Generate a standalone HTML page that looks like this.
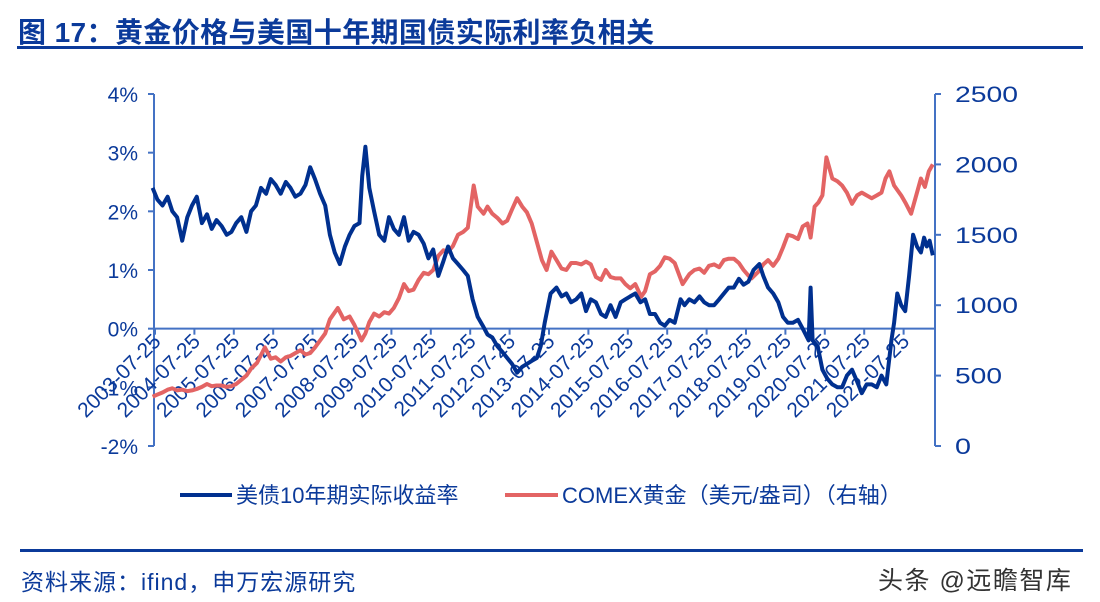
<!DOCTYPE html>
<html><head><meta charset="utf-8">
<style>
html,body{margin:0;padding:0;background:#fff;}
body{width:1100px;height:602px;overflow:hidden;position:relative;font-family:"Liberation Sans","Noto Sans CJK SC",sans-serif;}
.t{position:absolute;white-space:nowrap;}
</style></head><body>
<div class="t" style="left:18px;top:11px;font-size:28px;font-weight:bold;color:#0b3a9a;letter-spacing:0.4px;">图 17：黄金价格与美国十年期国债实际利率负相关</div>
<div style="position:absolute;left:17px;top:46px;width:1066px;height:3px;background:#0b3a9a;"></div>
<div style="position:absolute;left:20px;top:549px;width:1063px;height:3px;background:#0b3a9a;"></div>
<div class="t" style="left:21px;top:563px;font-size:23px;color:#0b3a9a;letter-spacing:1px;">资料来源：ifind，申万宏源研究</div>
<div class="t" style="left:878px;top:561px;font-size:25px;color:#333;letter-spacing:1.5px;">头条 @远瞻智库</div>
<svg id="chart" width="1100" height="602" style="position:absolute;left:0;top:0;" xmlns="http://www.w3.org/2000/svg"></svg>
<script>
const yearTicks=["2003-07-25","2004-07-25","2005-07-25","2006-07-25","2007-07-25","2008-07-25","2009-07-25","2010-07-25","2011-07-25","2012-07-25","2013-07-25","2014-07-25","2015-07-25","2016-07-25","2017-07-25","2018-07-25","2019-07-25","2020-07-25","2021-07-25","2022-07-25"];
const leftTicks=[-2,-1,0,1,2,3,4];
const rightTicks=[0,500,1000,1500,2000,2500];
const yieldDates=[2003.5,2003.62,2003.75,2003.88,2004.0,2004.12,2004.25,2004.38,2004.5,2004.62,2004.75,2004.88,2005.0,2005.12,2005.25,2005.38,2005.5,2005.62,2005.75,2005.88,2006.0,2006.12,2006.25,2006.38,2006.5,2006.62,2006.75,2006.88,2007.0,2007.12,2007.25,2007.38,2007.5,2007.62,2007.75,2007.88,2008.0,2008.12,2008.25,2008.38,2008.5,2008.62,2008.75,2008.82,2008.9,2009.0,2009.12,2009.25,2009.38,2009.5,2009.62,2009.75,2009.88,2010.0,2010.12,2010.25,2010.38,2010.5,2010.62,2010.75,2010.88,2011.0,2011.12,2011.25,2011.38,2011.5,2011.62,2011.75,2011.88,2012.0,2012.12,2012.25,2012.38,2012.5,2012.62,2012.75,2012.88,2013.0,2013.12,2013.25,2013.35,2013.45,2013.6,2013.75,2013.88,2014.0,2014.12,2014.25,2014.38,2014.5,2014.62,2014.75,2014.88,2015.0,2015.12,2015.25,2015.38,2015.5,2015.62,2015.75,2015.88,2016.0,2016.12,2016.25,2016.38,2016.5,2016.62,2016.75,2016.9,2017.0,2017.12,2017.25,2017.38,2017.5,2017.62,2017.75,2017.88,2018.0,2018.12,2018.25,2018.38,2018.5,2018.62,2018.75,2018.9,2019.0,2019.12,2019.25,2019.38,2019.5,2019.62,2019.75,2019.88,2020.0,2020.15,2020.2,2020.25,2020.38,2020.5,2020.62,2020.75,2020.88,2021.0,2021.12,2021.25,2021.38,2021.5,2021.62,2021.75,2021.88,2022.0,2022.12,2022.25,2022.32,2022.4,2022.5,2022.6,2022.7,2022.8,2022.9,2023.0,2023.08,2023.15,2023.22,2023.3];
const yieldValues=[2.4,2.2,2.1,2.25,2.0,1.9,1.5,1.9,2.1,2.25,1.8,1.95,1.7,1.85,1.75,1.6,1.65,1.8,1.9,1.65,2.0,2.1,2.4,2.3,2.55,2.45,2.3,2.5,2.4,2.25,2.3,2.45,2.75,2.55,2.3,2.1,1.6,1.3,1.1,1.4,1.6,1.75,1.8,2.6,3.1,2.4,2.0,1.6,1.5,1.9,1.7,1.6,1.9,1.5,1.65,1.6,1.45,1.2,1.35,0.9,1.15,1.4,1.2,1.1,1.0,0.9,0.5,0.2,0.05,-0.1,-0.15,-0.3,-0.4,-0.5,-0.6,-0.75,-0.65,-0.6,-0.55,-0.5,-0.3,0.1,0.6,0.7,0.55,0.6,0.45,0.5,0.6,0.3,0.5,0.45,0.25,0.2,0.4,0.2,0.45,0.5,0.55,0.6,0.45,0.5,0.25,0.25,0.1,0.05,0.15,0.1,0.5,0.4,0.5,0.45,0.55,0.45,0.4,0.4,0.5,0.6,0.7,0.7,0.85,0.75,0.8,1.0,1.1,0.9,0.7,0.6,0.45,0.2,0.1,0.1,0.15,0.0,-0.2,0.7,-0.2,-0.3,-0.7,-0.85,-0.95,-1.0,-1.0,-0.8,-0.7,-0.9,-1.1,-0.95,-0.95,-1.0,-0.8,-0.95,-0.2,0.1,0.6,0.4,0.3,0.9,1.6,1.4,1.3,1.55,1.4,1.5,1.25];
const goldDates=[2003.5,2003.62,2003.75,2003.88,2004.0,2004.12,2004.25,2004.38,2004.5,2004.62,2004.75,2004.88,2005.0,2005.12,2005.25,2005.38,2005.5,2005.62,2005.75,2005.88,2006.0,2006.15,2006.35,2006.5,2006.62,2006.75,2006.88,2007.0,2007.12,2007.25,2007.38,2007.5,2007.62,2007.75,2007.88,2008.0,2008.2,2008.35,2008.5,2008.62,2008.8,2008.9,2009.0,2009.12,2009.25,2009.38,2009.5,2009.62,2009.75,2009.88,2010.0,2010.12,2010.25,2010.38,2010.5,2010.62,2010.75,2010.88,2011.0,2011.12,2011.25,2011.38,2011.5,2011.65,2011.75,2011.9,2012.0,2012.12,2012.25,2012.38,2012.5,2012.62,2012.75,2012.88,2013.0,2013.12,2013.25,2013.38,2013.5,2013.62,2013.75,2013.88,2014.0,2014.12,2014.25,2014.38,2014.5,2014.62,2014.75,2014.88,2015.0,2015.12,2015.25,2015.38,2015.5,2015.62,2015.75,2015.9,2016.0,2016.12,2016.25,2016.38,2016.5,2016.62,2016.75,2016.95,2017.12,2017.25,2017.38,2017.5,2017.62,2017.75,2017.88,2018.0,2018.12,2018.25,2018.38,2018.5,2018.62,2018.7,2018.88,2019.0,2019.12,2019.25,2019.38,2019.5,2019.62,2019.75,2019.88,2020.0,2020.12,2020.2,2020.3,2020.4,2020.5,2020.6,2020.75,2020.88,2021.0,2021.12,2021.25,2021.38,2021.5,2021.62,2021.75,2021.88,2022.0,2022.1,2022.2,2022.32,2022.5,2022.62,2022.75,2022.9,2023.0,2023.1,2023.2,2023.3];
const goldValues=[350,365,380,400,410,395,400,390,395,405,420,440,425,430,430,420,425,440,470,500,550,590,700,620,630,600,630,640,660,680,650,660,700,750,800,900,980,900,920,860,750,800,880,940,920,950,940,980,1050,1150,1100,1110,1180,1230,1220,1250,1350,1390,1380,1420,1500,1520,1550,1850,1700,1650,1700,1650,1620,1580,1600,1680,1760,1700,1660,1580,1450,1320,1250,1380,1320,1260,1250,1300,1300,1290,1310,1290,1200,1180,1250,1200,1190,1190,1150,1120,1150,1060,1100,1220,1240,1280,1340,1330,1300,1150,1220,1250,1260,1230,1280,1290,1270,1320,1330,1330,1300,1250,1210,1190,1240,1290,1320,1280,1330,1410,1500,1490,1470,1560,1580,1480,1700,1730,1780,2050,1900,1880,1850,1800,1720,1780,1800,1780,1760,1780,1800,1900,1950,1850,1780,1720,1650,1800,1900,1840,1950,2000];

const NS="http://www.w3.org/2000/svg";
const svg=document.getElementById('chart');
const X0=155,PX_YEAR=39.4,YT=94,YB=446;
const xs=d=>X0+(d-2003.56)*PX_YEAR;
const yl=v=>YB-(v+2)/6*(YB-YT);
const yr=v=>YB-v/2500*(YB-YT);
function mk(tag,attrs){const e=document.createElementNS(NS,tag);for(const k in attrs)e.setAttribute(k,attrs[k]);svg.appendChild(e);return e;}
const AX="#4472c4",TX="#0b3a9a";
let e=mk('line',{x1:154,y1:YT,x2:154,y2:YB,stroke:AX,'stroke-width':2});

leftTicks.forEach(v=>{
  let t=mk('line',{x1:148,x2:154,y1:yl(v),y2:yl(v),stroke:AX,'stroke-width':2});
  
  let l=mk('text',{x:138,y:yl(v)+8,'text-anchor':'end','font-size':21,fill:TX});
  l.textContent=v+'%';
  
});
e=mk('line',{x1:935,y1:YT,x2:935,y2:YB,stroke:AX,'stroke-width':2});

rightTicks.forEach(v=>{
  let t=mk('line',{x1:935,x2:941,y1:yr(v),y2:yr(v),stroke:AX,'stroke-width':2});
  
  const s=String(v);
  let l=mk('text',{x:955,y:yr(v)+8,'font-size':22,fill:TX,textLength:(s.length*15.8).toFixed(0),lengthAdjust:'spacingAndGlyphs'});
  l.textContent=s;
  
});
e=mk('line',{x1:154,y1:yl(0),x2:935,y2:yl(0),stroke:AX,'stroke-width':2});

yearTicks.forEach((s,i)=>{
  const x=xs(2003.56+i);
  let t=mk('line',{x1:x,x2:x,y1:yl(0),y2:yl(0)+6,stroke:AX,'stroke-width':2});
  
  let l=mk('text',{x:0,y:0,'text-anchor':'end','font-size':21,fill:TX,transform:`translate(${x+7},${yl(0)+14}) rotate(-45)`});
  l.textContent=s;
  
});
function pathOf(ds,vs,f){return ds.map((d,i)=>(i?'L':'M')+xs(d).toFixed(1)+','+f(vs[i]).toFixed(1)).join('');}
e=mk('path',{d:pathOf(goldDates,goldValues,yr),fill:'none',stroke:'#e36464','stroke-width':4,'stroke-linejoin':'round'});

e=mk('path',{d:pathOf(yieldDates,yieldValues,yl),fill:'none',stroke:'#00308f','stroke-width':4,'stroke-linejoin':'round'});

e=mk('line',{x1:180,x2:232,y1:495,y2:495,stroke:'#00308f','stroke-width':4});

e=mk('text',{x:236,y:503,'font-size':22,fill:TX});e.textContent='美债10年期实际收益率';

e=mk('line',{x1:505,x2:558,y1:495,y2:495,stroke:'#e36464','stroke-width':4});

e=mk('text',{x:562,y:503,'font-size':22,fill:TX});e.textContent='COMEX黄金（美元/盎司）（右轴）';

</script>
</body></html>
